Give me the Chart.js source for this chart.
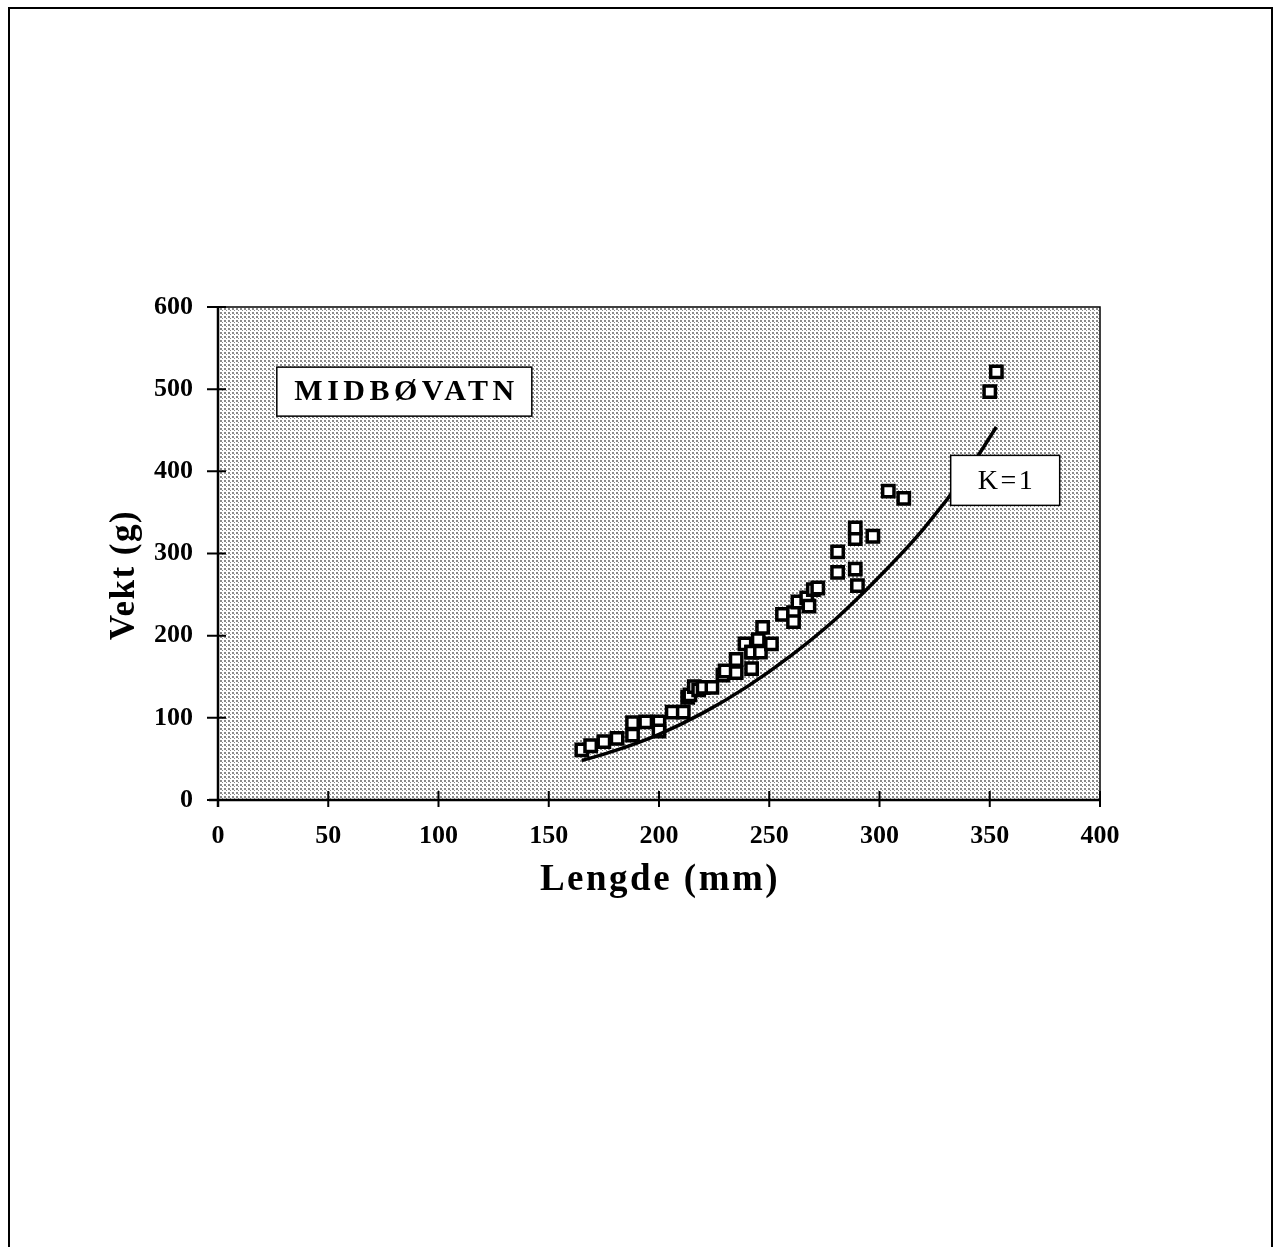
<!DOCTYPE html>
<html>
<head>
<meta charset="utf-8">
<script src="https://cdn.jsdelivr.net/npm/chart.js@4.4.1/dist/chart.umd.min.js"></script>
<style>
  html, body { margin: 0; padding: 0; background: #fff; }
  #frame { position: absolute; left: 8px; top: 7px; width: 1261px; height: 1260px; border: 2px solid #000; border-bottom: none; }
  #wrap { position: absolute; left: 0; top: 0; width: 1275px; height: 1247px; }
</style>
</head>
<body>
<div id="frame"></div>
<div id="wrap"><canvas id="fishChart"></canvas></div>
<script>
// measured fish (length mm, weight g)
const lengthMm = [165, 169, 175, 181, 188, 188, 194, 200, 200, 206, 211, 213, 214, 216, 218, 220, 224,
  229, 230, 235, 235, 239, 242, 242, 242, 245, 246, 247, 251, 256, 261, 261, 263, 267, 268, 270, 272,
  281, 281, 289, 289, 289, 290, 297, 304, 311, 350, 353];
const weightG = [61, 66, 71, 75, 79, 94, 95, 95, 84, 107, 107, 125, 128, 138, 134, 137, 137,
  152, 157, 155, 171, 190, 160, 180, 180, 195, 180, 210, 190, 226, 228, 217, 241, 246, 236, 256, 258,
  277, 302, 281, 318, 331, 261, 321, 376, 367, 497, 521];

// K=1 reference curve
const curveLength = [165, 180, 200, 220, 240, 260, 280, 300, 320, 340, 353];
const curveWeight = [48, 60, 80, 106, 138, 176, 220, 272, 330, 400, 454];

const xLabel = 'Lengde (mm)';
const yLabel = 'Vekt (g)';
const lakeName = 'MIDBØVATN';
const curveName = 'K=1';

const pts = lengthMm.map((x, i) => ({ x: x, y: weightG[i] }));
const curve = curveLength.map((x, i) => ({ x: x, y: curveWeight[i] }));

function makePattern(ctx) {
  const c = document.createElement('canvas');
  c.width = 4; c.height = 4;
  const p = c.getContext('2d');
  p.fillStyle = '#fff';
  p.fillRect(0, 0, 4, 4);
  p.fillStyle = '#8a8a8a';
  p.fillRect(0, 0, 2, 2);
  p.fillRect(2, 2, 1, 1);
  return ctx.createPattern(c, 'repeat');
}

const paperPlugin = {
  id: 'paper',
  beforeDatasetsDraw(chart) {
    const { ctx, chartArea: a } = chart;
    ctx.save();
    ctx.fillStyle = makePattern(ctx);
    ctx.fillRect(a.left, a.top, a.right - a.left, a.bottom - a.top);
    ctx.strokeStyle = '#000';
    ctx.lineWidth = 1.5;
    ctx.beginPath();
    ctx.moveTo(a.left - 11, a.top);
    ctx.lineTo(a.right, a.top);
    ctx.lineTo(a.right, a.bottom);
    ctx.stroke();
    ctx.restore();
  },
  afterDatasetsDraw(chart) {
    const { ctx, chartArea: a, scales } = chart;
    ctx.save();
    // axes with crossing ticks
    ctx.strokeStyle = '#000';
    ctx.lineWidth = 2.5;
    ctx.beginPath();
    ctx.moveTo(a.left - 9, a.bottom);
    ctx.lineTo(a.right, a.bottom);
    ctx.moveTo(a.left, a.top);
    ctx.lineTo(a.left, a.bottom + 7);
    ctx.stroke();
    ctx.lineWidth = 2;
    ctx.beginPath();
    scales.x.ticks.forEach(t => {
      const px = scales.x.getPixelForValue(t.value);
      ctx.moveTo(px, a.bottom - 9);
      ctx.lineTo(px, a.bottom + 7);
    });
    scales.y.ticks.forEach(t => {
      const py = scales.y.getPixelForValue(t.value);
      ctx.moveTo(a.left - 11, py);
      ctx.lineTo(a.left + 8, py);
    });
    ctx.stroke();

    // text boxes
    function box(cx, cy, w, h, text, font, spacing) {
      ctx.fillStyle = '#fff';
      ctx.fillRect(cx - w / 2, cy - h / 2, w, h);
      ctx.strokeStyle = '#000';
      ctx.lineWidth = 1.5;
      ctx.strokeRect(cx - w / 2, cy - h / 2, w, h);
      ctx.fillStyle = '#000';
      ctx.font = font;
      ctx.letterSpacing = spacing + 'px';
      ctx.textAlign = 'center';
      ctx.textBaseline = 'middle';
      ctx.fillText(text, cx + spacing / 2, cy + 1);
    }
    const xs = scales.x, ys = scales.y;
    box(xs.getPixelForValue(84.5), ys.getPixelForValue(497), 255, 49, lakeName, 'bold 30px "Liberation Serif"', 4.5);
    box(xs.getPixelForValue(357), ys.getPixelForValue(389), 109, 50, curveName, '28px "Liberation Serif"', 2.5);

    // axis titles
    ctx.fillStyle = '#000';
    ctx.textAlign = 'center';
    ctx.textBaseline = 'middle';
    ctx.font = 'bold 37px "Liberation Serif"';
    ctx.letterSpacing = '2.5px';
    ctx.fillText(xLabel, (a.left + a.right) / 2 + 1, 880);
    ctx.save();
    ctx.translate(125, 576);
    ctx.rotate(-Math.PI / 2);
    ctx.font = 'bold 35px "Liberation Serif"';
    ctx.letterSpacing = '1.5px';
    ctx.fillText(yLabel, 1, 0);
    ctx.restore();
    ctx.letterSpacing = '0px';
    ctx.restore();
  }
};

const tickFont = { family: 'Liberation Serif', size: 26, weight: 'bold' };

new Chart(document.getElementById('fishChart'), {
  type: 'scatter',
  data: {
    datasets: [
      {
        label: curveName,
        data: curve,
        showLine: true,
        borderColor: '#000',
        borderWidth: 3.5,
        pointRadius: 0,
        cubicInterpolationMode: 'monotone',
        fill: false
      },
      {
        label: 'Fisk',
        data: pts,
        pointStyle: 'rect',
        pointRadius: 8,
        borderWidth: 3.5,
        borderColor: '#000',
        backgroundColor: '#fff'
      }
    ]
  },
  options: {
    responsive: true,
    maintainAspectRatio: false,
    animation: false,
    layout: { padding: { left: 90, right: 175, top: 307, bottom: 340 } },
    plugins: { legend: { display: false }, tooltip: { enabled: false } },
    scales: {
      x: {
        type: 'linear',
        min: 0, max: 400,
        grid: { display: false, drawTicks: false },
        border: { display: false },
        ticks: { stepSize: 50, color: '#000', font: tickFont, padding: 21, maxRotation: 0 },
        afterFit(scale) { scale.height = 1247 - 340 - 800; }
      },
      y: {
        type: 'linear',
        min: 0, max: 600,
        grid: { display: false, drawTicks: false },
        border: { display: false },
        ticks: { stepSize: 100, color: '#000', font: tickFont, padding: 25 },
        afterFit(scale) { scale.width = 218 - 90; }
      }
    }
  },
  plugins: [paperPlugin]
});
</script>
</body>
</html>
